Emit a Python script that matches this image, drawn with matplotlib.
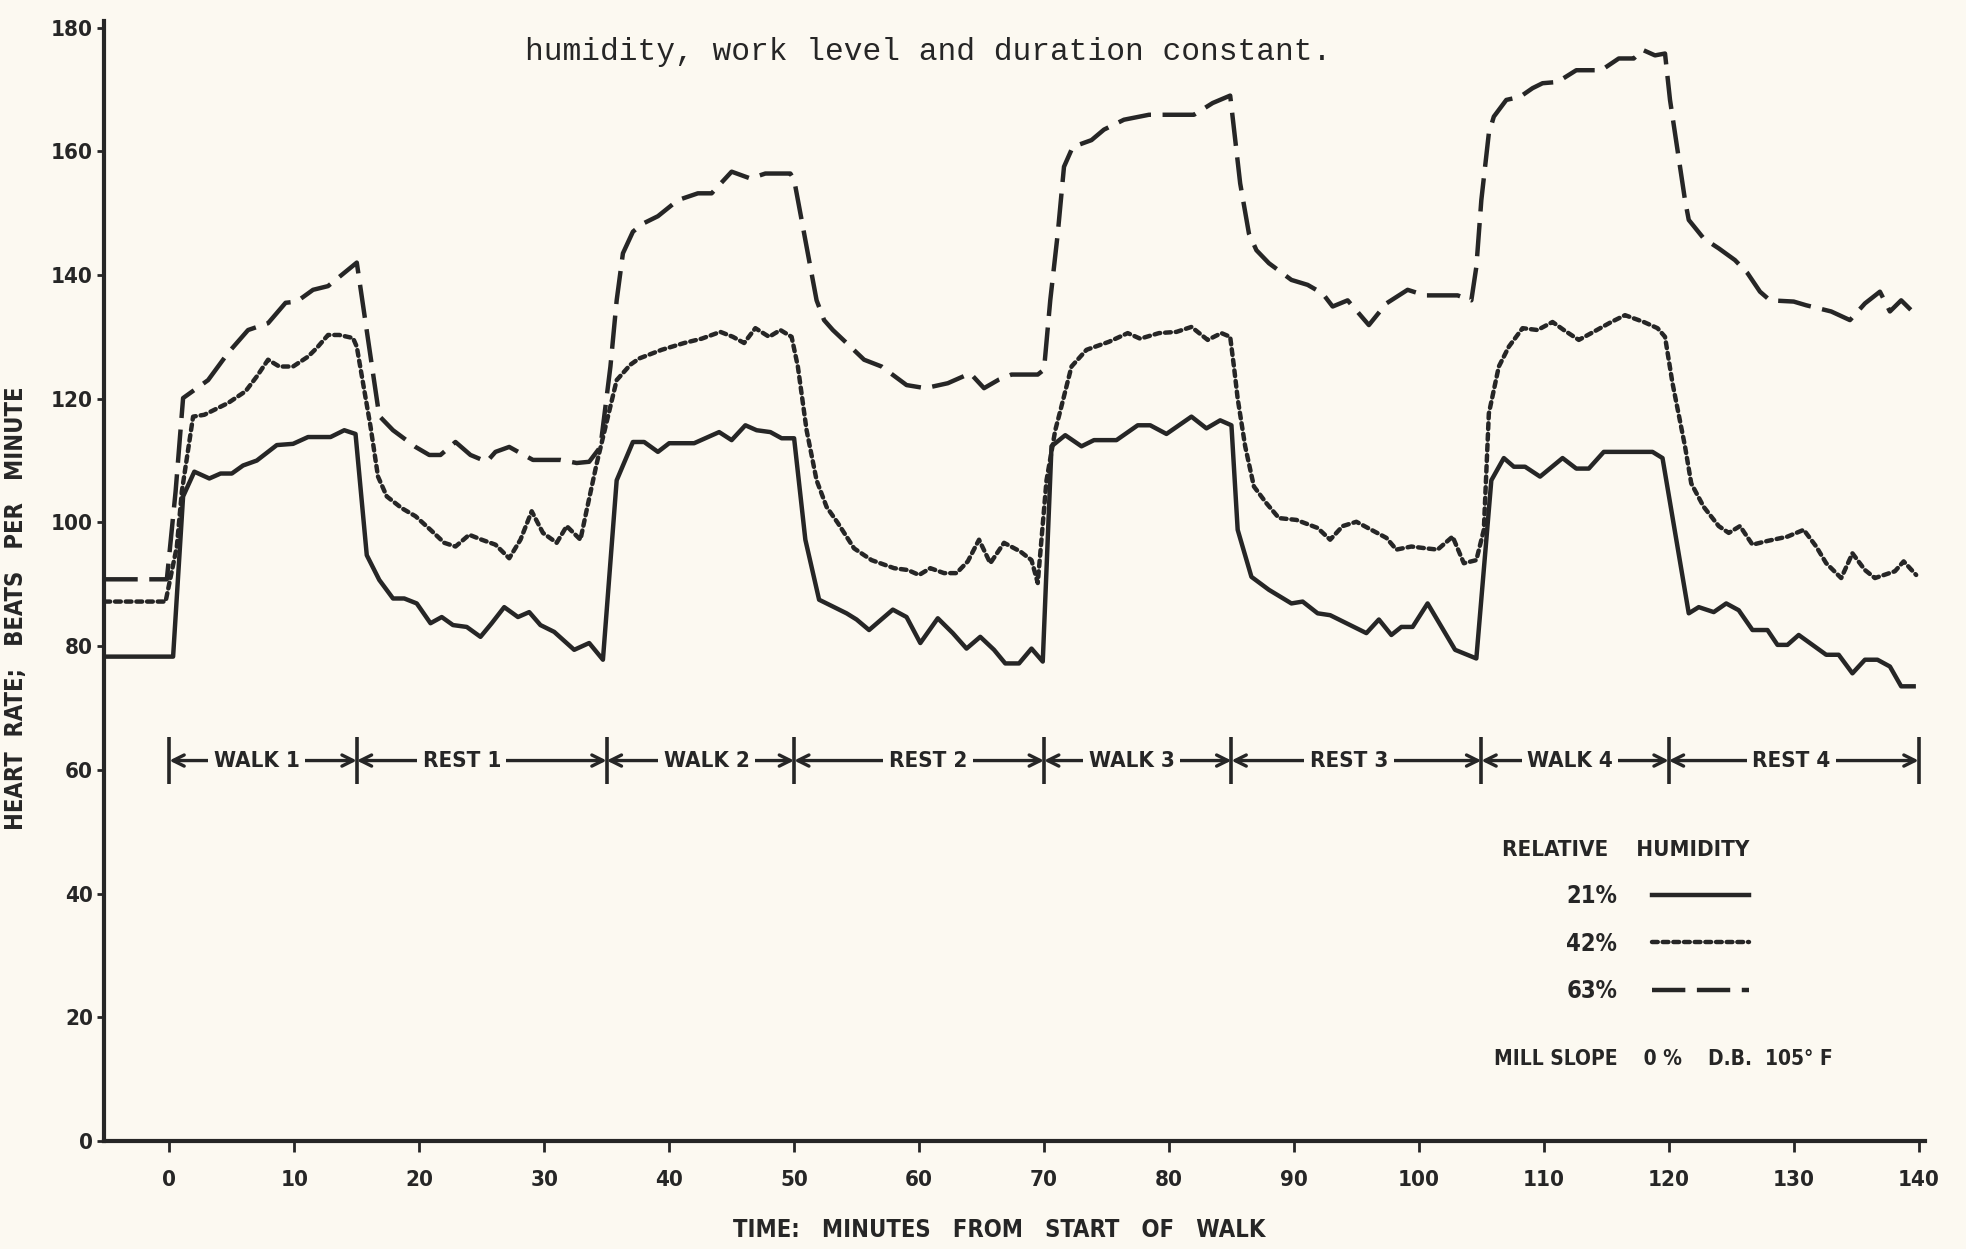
import matplotlib
matplotlib.use("Agg")
import matplotlib.pyplot as plt

# ---------------- data ----------------
rh21 = [(-5.2, 78.3), (0.3, 78.3), (1.1, 104.2), (2.0, 108.2), (3.2, 107.1), (4.1, 107.9), (5.0, 107.9),
        (5.9, 109.2), (7.0, 110.0), (8.6, 112.5), (9.9, 112.7), (11.1, 113.8), (12.9, 113.8), (14.0, 114.9),
        (14.9, 114.3), (15.8, 94.7), (16.8, 90.7), (17.9, 87.7), (18.8, 87.7), (19.8, 86.9), (20.9, 83.7),
        (21.8, 84.7), (22.7, 83.4), (23.8, 83.1), (24.9, 81.5), (25.8, 83.7), (26.8, 86.3), (27.9, 84.7),
        (28.8, 85.5), (29.7, 83.4), (30.8, 82.3), (32.4, 79.4), (33.6, 80.5), (34.7, 77.8), (35.8, 106.8),
        (37.1, 113.0), (38.0, 113.0), (39.1, 111.4), (40.0, 112.8), (42.0, 112.8), (44.0, 114.6), (45.0, 113.3),
        (46.1, 115.7), (47.0, 114.9), (48.1, 114.6), (49.0, 113.6), (50.0, 113.6), (50.9, 97.2), (52.0, 87.5),
        (54.2, 85.3), (55.0, 84.3), (56.0, 82.6), (57.9, 85.9), (59.0, 84.7), (60.1, 80.5), (61.5, 84.5),
        (62.7, 82.1), (63.8, 79.6), (64.9, 81.5), (66.0, 79.4), (66.9, 77.2), (68.0, 77.2), (69.0, 79.6),
        (69.9, 77.5), (70.6, 112.3), (71.7, 114.1), (73.0, 112.3), (74.0, 113.3), (75.8, 113.3), (77.5, 115.7),
        (78.5, 115.7), (79.8, 114.3), (81.8, 117.1), (83.0, 115.2), (84.1, 116.5), (85.0, 115.7), (85.5, 98.8),
        (86.6, 91.2), (88.0, 89.1), (89.8, 86.9), (90.7, 87.2), (91.9, 85.3), (92.9, 85.0), (95.8, 82.1),
        (96.8, 84.3), (97.8, 81.8), (98.6, 83.1), (99.5, 83.1), (100.7, 86.9), (102.9, 79.4), (104.6, 78.0),
        (105.8, 106.8), (106.8, 110.4), (107.6, 109.0), (108.5, 109.0), (109.7, 107.4), (111.5, 110.4),
        (112.6, 108.7), (113.6, 108.7), (114.8, 111.4), (118.7, 111.4), (119.5, 110.4), (121.6, 85.3),
        (122.4, 86.3), (123.6, 85.5), (124.6, 86.9), (125.6, 85.8), (126.7, 82.6), (127.9, 82.6), (128.7, 80.2),
        (129.5, 80.2), (130.4, 81.8), (132.6, 78.6), (133.6, 78.6), (134.7, 75.6), (135.7, 77.8), (136.7, 77.8),
        (137.7, 76.7), (138.6, 73.5), (139.6, 73.5)]

rh42 = [(-5.2, 87.2), (-0.3, 87.2), (0.6, 96.1), (1.0, 105.0), (1.9, 117.1), (2.8, 117.4), (3.6, 118.2),
        (4.7, 119.3), (6.1, 121.2), (7.0, 123.6), (7.9, 126.3), (8.8, 125.2), (9.9, 125.2), (11.1, 126.8),
        (11.8, 128.2), (12.7, 130.3), (13.6, 130.3), (14.7, 129.8), (15.0, 128.4), (16.1, 115.5), (16.7, 107.4),
        (17.4, 104.2), (18.6, 102.3), (19.7, 101.0), (20.9, 98.8), (22.0, 96.7), (22.9, 96.1), (24.0, 98.0),
        (25.0, 97.2), (26.1, 96.4), (27.2, 94.2), (28.1, 97.2), (29.0, 101.8), (29.9, 98.3), (31.0, 96.7),
        (31.8, 99.4), (32.9, 97.2), (33.4, 102.0), (34.2, 109.5), (35.1, 117.1), (35.8, 123.0), (36.9, 125.5),
        (37.6, 126.5), (39.4, 127.9), (41.2, 129.0), (42.6, 129.7), (44.1, 130.8), (45.1, 130.0), (46.0, 129.0),
        (46.9, 131.4), (48.0, 130.0), (48.9, 131.1), (49.8, 130.0), (50.3, 125.2), (51.0, 114.9), (51.8, 106.8),
        (52.6, 102.5), (53.5, 99.9), (54.8, 95.8), (56.2, 93.9), (58.0, 92.6), (59.1, 92.3), (60.0, 91.5),
        (60.9, 92.6), (62.0, 91.8), (63.0, 91.8), (63.9, 93.7), (64.8, 97.2), (65.7, 93.4), (66.8, 96.7),
        (68.1, 95.3), (69.0, 93.9), (69.5, 90.2), (70.2, 106.8), (70.9, 114.9), (71.3, 118.0), (72.2, 125.2),
        (73.4, 127.9), (75.2, 129.2), (76.7, 130.6), (77.7, 129.7), (79.2, 130.6), (80.6, 130.8), (81.8, 131.6),
        (83.1, 129.5), (84.2, 130.6), (84.9, 130.0), (85.2, 125.2), (85.5, 120.0), (86.1, 112.3), (86.8, 105.8),
        (87.8, 103.1), (88.8, 100.7), (90.2, 100.4), (91.9, 99.1), (92.9, 97.2), (93.9, 99.4), (95.0, 100.1),
        (96.2, 98.8), (97.4, 97.5), (98.2, 95.6), (99.4, 96.1), (100.6, 95.8), (101.5, 95.6), (102.7, 97.7),
        (103.6, 93.4), (104.6, 93.9), (105.2, 98.8), (105.6, 117.6), (106.4, 125.2), (107.2, 128.4),
        (108.3, 131.4), (109.5, 131.1), (110.7, 132.4), (111.6, 131.1), (112.8, 129.5), (113.8, 130.6),
        (115.4, 132.4), (116.5, 133.5), (118.0, 132.4), (119.1, 131.4), (119.7, 130.0), (120.3, 122.5),
        (121.3, 112.3), (121.8, 106.3), (122.8, 102.5), (124.0, 99.4), (124.8, 98.3), (125.7, 99.4),
        (126.7, 96.4), (127.9, 97.0), (129.5, 97.7), (130.8, 98.8), (131.8, 96.1), (132.6, 93.4), (133.8, 91.0),
        (134.7, 95.0), (135.7, 92.3), (136.5, 91.0), (138.1, 92.1), (138.8, 93.7), (139.8, 91.5)]

rh63 = [(-5.2, 90.8), (-0.2, 90.8), (0.5, 105.0), (1.1, 120.1), (3.1, 123.0), (4.7, 127.4), (6.3, 131.1),
        (7.9, 132.2), (9.3, 135.5), (10.2, 135.7), (11.5, 137.6), (12.7, 138.2), (15.0, 142.0), (16.8, 117.2),
        (17.9, 114.9), (19.7, 112.2), (20.8, 110.9), (21.7, 110.9), (22.9, 113.0), (24.1, 110.9), (25.4, 109.8),
        (26.1, 111.4), (27.2, 112.2), (28.1, 111.2), (29.1, 110.1), (31.3, 110.1), (32.6, 109.6), (33.6, 109.8),
        (34.5, 112.2), (35.3, 125.2), (35.8, 135.9), (36.3, 143.5), (37.1, 147.0), (37.9, 148.3), (39.1, 149.5),
        (40.7, 152.1), (42.3, 153.2), (43.4, 153.2), (45.0, 156.7), (46.5, 155.6), (47.7, 156.4), (49.7, 156.4),
        (50.0, 155.4), (50.6, 148.9), (51.3, 141.3), (51.8, 135.9), (52.4, 132.7), (53.1, 131.1), (54.2, 129.0),
        (55.6, 126.3), (57.0, 125.2), (59.0, 122.2), (60.5, 121.7), (62.3, 122.5), (64.1, 124.1), (65.2, 121.7),
        (66.4, 123.1), (67.4, 123.9), (69.5, 123.9), (70.0, 124.7), (70.5, 135.9), (71.1, 146.7), (71.6, 157.5),
        (72.3, 160.7), (73.8, 161.8), (74.8, 163.5), (76.4, 165.1), (78.4, 165.9), (82.0, 165.9), (83.5, 167.8),
        (84.9, 169.0), (85.7, 154.8), (86.4, 146.7), (87.0, 144.0), (88.0, 141.9), (89.8, 139.2), (91.1, 138.4),
        (92.3, 137.0), (93.1, 134.9), (94.3, 135.9), (96.0, 131.9), (97.4, 135.4), (99.1, 137.6), (100.5, 136.7),
        (103.1, 136.7), (104.2, 135.9), (104.6, 141.3), (105.0, 152.1), (105.6, 162.9), (106.0, 165.6),
        (107.0, 168.3), (108.1, 168.8), (109.1, 170.2), (109.9, 171.0), (111.1, 171.2), (112.6, 173.1),
        (114.6, 173.1), (116.0, 175.0), (117.2, 175.0), (117.9, 176.4), (118.9, 175.5), (119.7, 175.8),
        (120.1, 168.3), (120.7, 160.2), (121.3, 152.1), (121.6, 148.9), (122.8, 145.9), (124.0, 144.3),
        (125.3, 142.4), (126.3, 140.3), (127.3, 137.3), (128.1, 135.9), (130.0, 135.7), (131.0, 135.1),
        (132.0, 134.6), (133.0, 134.1), (134.5, 132.7), (135.7, 135.4), (136.9, 137.3), (137.7, 134.1),
        (138.6, 135.9), (139.8, 133.5)]

series_labels = ["21%", "42%", "63%"]

periods = ["WALK 1", "REST 1", "WALK 2", "REST 2", "WALK 3", "REST 3", "WALK 4", "REST 4"]
period_bounds = [0, 15, 35, 50, 70, 85, 105, 120, 140]
period_label_x = [7.0, 23.4, 43.0, 60.7, 77.0, 94.4, 112.1, 129.8]

y_ticks = list(range(0, 181, 20))
x_ticks = list(range(0, 141, 10))

title_text = "humidity, work level and duration constant."
ylabel_text = "HEART  RATE;   BEATS   PER   MINUTE"
xlabel_text = "TIME:   MINUTES   FROM   START   OF   WALK"
legend_title = "RELATIVE    HUMIDITY"
note_text = "MILL SLOPE    0 %    D.B.  105\u00b0 F"

# ---------------- style ----------------
BG = "#FCF9F1"
INK = "#262626"
plt.rcParams["font.family"] = ["DejaVu Sans"]
plt.rcParams["font.weight"] = "bold"
plt.rcParams["font.stretch"] = "condensed"

fig = plt.figure(figsize=(19.66, 12.49), dpi=100, facecolor=BG)
ax = fig.add_axes([0.0529, 0.0865, 0.9262, 0.8964], facecolor=BG)

styles = [dict(linestyle="-"),
          dict(dashes=(1.3, 1.1), dash_capstyle="round"),
          dict(dashes=(7.5, 2.6), dash_capstyle="butt")]
for data, lab, st in zip([rh21, rh42, rh63], series_labels, styles):
    t = [p[0] for p in data]
    v = [p[1] for p in data]
    ax.plot(t, v, color=INK, lw=3.2, label=lab, solid_joinstyle="round", **st)

ax.set_xlim(-5.23, 140.5)
ax.set_ylim(0, 181)
ax.set_yticks(y_ticks)
ax.set_xticks(x_ticks)
for s in ["top", "right"]:
    ax.spines[s].set_visible(False)
for s in ["left", "bottom"]:
    ax.spines[s].set_linewidth(3)
    ax.spines[s].set_color(INK)
ax.tick_params(axis="y", direction="out", length=5, width=2, pad=3, labelsize=16, colors=INK)
ax.tick_params(axis="x", direction="out", length=8, width=2, pad=13, labelsize=16, colors=INK)

ax.set_ylabel(ylabel_text, fontsize=17, fontweight="bold", color=INK)
ax.yaxis.set_label_coords(-0.042, 0.476)
ax.set_xlabel(xlabel_text, fontsize=17, fontweight="bold", color=INK)
ax.xaxis.set_label_coords(0.4915, -0.069)

# period arrows
ROW = 61.5
for i, name in enumerate(periods):
    a, b, c = period_bounds[i], period_bounds[i + 1], period_label_x[i]
    for end in (a, b):
        ax.annotate("", xy=(end, ROW), xytext=(c, ROW),
                    arrowprops=dict(arrowstyle="->,head_length=0.8,head_width=0.4",
                                    lw=2.4, color=INK, shrinkA=0, shrinkB=0))
    ax.text(c, ROW, name, ha="center", va="center", fontsize=16, color=INK, zorder=6,
            bbox=dict(boxstyle="square,pad=0.25", fc=BG, ec="none"))
ax.vlines(period_bounds, ROW - 3.8, ROW + 3.8, color=INK, lw=2.6)

# legend
leg = ax.legend(loc="upper right", bbox_to_anchor=(0.910, 0.279), frameon=False,
                markerfirst=False, title=legend_title, fontsize=17, title_fontsize=16,
                handlelength=4.1, handletextpad=1.5, labelspacing=1.0, borderpad=0,
                alignment="right")
for txt in leg.get_texts():
    txt.set_color(INK)
leg.get_title().set_color(INK)

ax.text(119.6, 13.2, note_text, ha="center", va="center", fontsize=15, color=INK)

fig.text(0.472, 0.958, title_text, family="Liberation Mono", fontsize=22.5,
         weight="normal", stretch="normal", ha="center", va="center", color=INK)

fig.savefig("out.png", dpi=100, facecolor=BG)
